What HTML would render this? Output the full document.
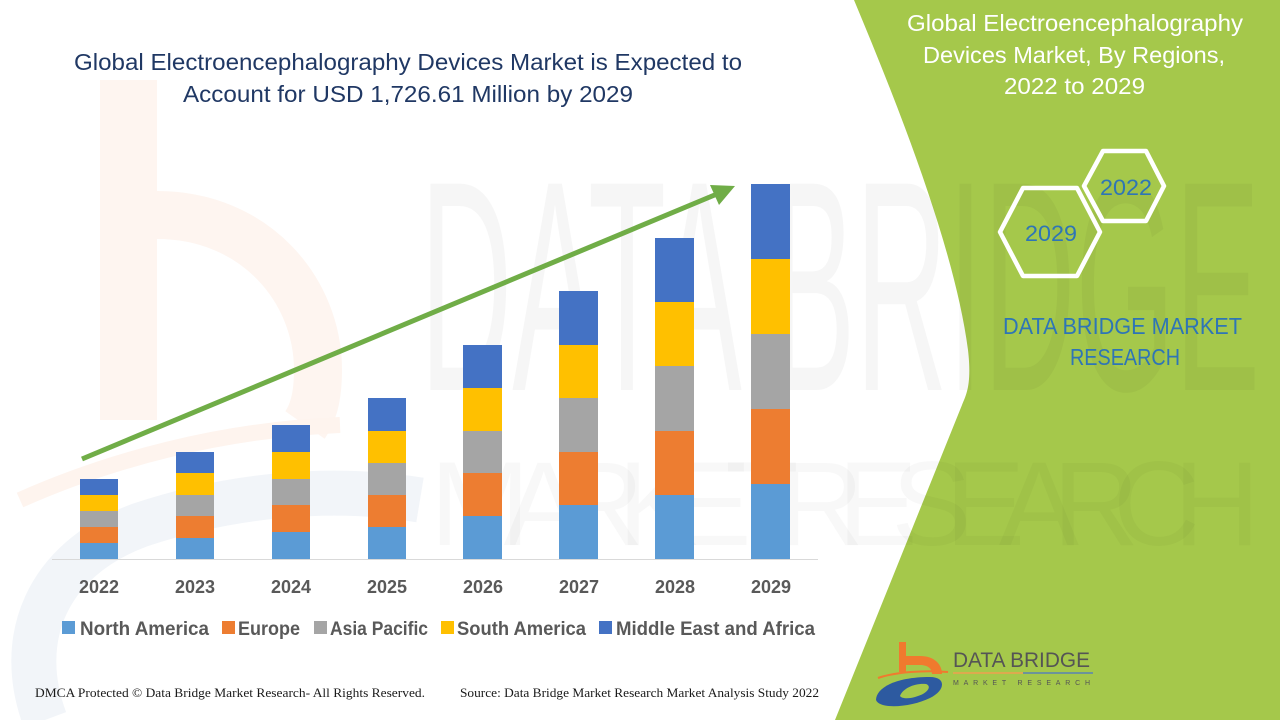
<!DOCTYPE html>
<html>
<head>
<meta charset="utf-8">
<style>
  html, body { margin:0; padding:0; background:#ffffff; }
  svg { display:block; }
</style>
</head>
<body>
<svg width="1280" height="720" viewBox="0 0 1280 720" xmlns="http://www.w3.org/2000/svg">
  <rect x="0" y="0" width="1280" height="720" fill="#ffffff"/>

  <!-- faint watermark logo (left) -->
  <g>
    <rect x="100" y="80" width="57" height="340" fill="#fef5f0"/>
    <path d="M157,215 C255,215 318,290 318,370 C318,400 312,415 305,425" fill="none" stroke="#fef5f0" stroke-width="48"/>
    <path d="M20,500 C110,460 220,430 340,425" fill="none" stroke="#fef4ee" stroke-width="16"/>
    <path d="M45,720 C15,640 45,560 140,525 C230,495 330,485 420,500" fill="none" stroke="#f2f5f9" stroke-width="45"/>
  </g>

  <!-- green right panel -->
  <path d="M854,0 C900,110 955,250 968,350 C972,385 966,395 962,405 L835,720 L1280,720 L1280,0 Z" fill="#a5c84b"/>

  <!-- faint watermark text -->
  <text x="420" y="390" font-family="Liberation Sans, sans-serif" font-size="300" fill="#000000" fill-opacity="0.035" textLength="840" lengthAdjust="spacingAndGlyphs">DATA BRIDGE</text>
  <text x="430" y="545" font-family="Liberation Sans, sans-serif" font-size="120" fill="#000000" fill-opacity="0.028" textLength="830" lengthAdjust="spacing">MARKET RESEARCH</text>

  <!-- Title -->
  <text x="74" y="70" font-family="Liberation Sans, sans-serif" font-size="23" fill="#203864" textLength="668" lengthAdjust="spacingAndGlyphs">Global Electroencephalography Devices Market is Expected to</text>
  <text x="183" y="102" font-family="Liberation Sans, sans-serif" font-size="23" fill="#203864" textLength="450" lengthAdjust="spacingAndGlyphs">Account for USD 1,726.61 Million by 2029</text>

  <!-- axis line -->
  <line x1="52" y1="559.5" x2="818" y2="559.5" stroke="#d9d9d9" stroke-width="1"/>

  <!-- bars -->
  <g>
    <!-- 2022 -->
    <rect x="80" y="543" width="38" height="16" fill="#5b9bd5"/>
    <rect x="80" y="527" width="38" height="16" fill="#ed7d31"/>
    <rect x="80" y="511" width="38" height="16" fill="#a5a5a5"/>
    <rect x="80" y="495" width="38" height="16" fill="#ffc000"/>
    <rect x="80" y="479" width="38" height="16" fill="#4472c4"/>
    <!-- 2023 -->
    <rect x="176" y="538" width="38" height="21" fill="#5b9bd5"/>
    <rect x="176" y="516" width="38" height="22" fill="#ed7d31"/>
    <rect x="176" y="495" width="38" height="21" fill="#a5a5a5"/>
    <rect x="176" y="473" width="38" height="22" fill="#ffc000"/>
    <rect x="176" y="452" width="38" height="21" fill="#4472c4"/>
    <!-- 2024 -->
    <rect x="272" y="532" width="38" height="27" fill="#5b9bd5"/>
    <rect x="272" y="505" width="38" height="27" fill="#ed7d31"/>
    <rect x="272" y="479" width="38" height="26" fill="#a5a5a5"/>
    <rect x="272" y="452" width="38" height="27" fill="#ffc000"/>
    <rect x="272" y="425" width="38" height="27" fill="#4472c4"/>
    <!-- 2025 -->
    <rect x="368" y="527" width="38" height="32" fill="#5b9bd5"/>
    <rect x="368" y="495" width="38" height="32" fill="#ed7d31"/>
    <rect x="368" y="463" width="38" height="32" fill="#a5a5a5"/>
    <rect x="368" y="431" width="38" height="32" fill="#ffc000"/>
    <rect x="368" y="398" width="38" height="33" fill="#4472c4"/>
    <!-- 2026 -->
    <rect x="463" y="516" width="39" height="43" fill="#5b9bd5"/>
    <rect x="463" y="473" width="39" height="43" fill="#ed7d31"/>
    <rect x="463" y="431" width="39" height="42" fill="#a5a5a5"/>
    <rect x="463" y="388" width="39" height="43" fill="#ffc000"/>
    <rect x="463" y="345" width="39" height="43" fill="#4472c4"/>
    <!-- 2027 -->
    <rect x="559" y="505" width="39" height="54" fill="#5b9bd5"/>
    <rect x="559" y="452" width="39" height="53" fill="#ed7d31"/>
    <rect x="559" y="398" width="39" height="54" fill="#a5a5a5"/>
    <rect x="559" y="345" width="39" height="53" fill="#ffc000"/>
    <rect x="559" y="291" width="39" height="54" fill="#4472c4"/>
    <!-- 2028 -->
    <rect x="655" y="495" width="39" height="64" fill="#5b9bd5"/>
    <rect x="655" y="431" width="39" height="64" fill="#ed7d31"/>
    <rect x="655" y="366" width="39" height="65" fill="#a5a5a5"/>
    <rect x="655" y="302" width="39" height="64" fill="#ffc000"/>
    <rect x="655" y="238" width="39" height="64" fill="#4472c4"/>
    <!-- 2029 -->
    <rect x="751" y="484" width="39" height="75" fill="#5b9bd5"/>
    <rect x="751" y="409" width="39" height="75" fill="#ed7d31"/>
    <rect x="751" y="334" width="39" height="75" fill="#a5a5a5"/>
    <rect x="751" y="259" width="39" height="75" fill="#ffc000"/>
    <rect x="751" y="184" width="39" height="75" fill="#4472c4"/>
  </g>

  <!-- trend arrow -->
  <line x1="82" y1="459" x2="717" y2="194" stroke="#70ad47" stroke-width="5"/>
  <polygon points="735,186 710,185 719,205" fill="#70ad47"/>

  <!-- x labels -->
  <g font-family="Liberation Sans, sans-serif" font-size="18" font-weight="bold" fill="#595959" text-anchor="middle">
    <text x="99" y="593">2022</text>
    <text x="195" y="593">2023</text>
    <text x="291" y="593">2024</text>
    <text x="387" y="593">2025</text>
    <text x="483" y="593">2026</text>
    <text x="579" y="593">2027</text>
    <text x="675" y="593">2028</text>
    <text x="771" y="593">2029</text>
  </g>

  <!-- legend -->
  <g font-family="Liberation Sans, sans-serif" font-size="19" font-weight="bold" fill="#595959">
    <rect x="62" y="621" width="13" height="13" fill="#5b9bd5"/>
    <text x="80" y="635" textLength="129" lengthAdjust="spacingAndGlyphs">North America</text>
    <rect x="222" y="621" width="13" height="13" fill="#ed7d31"/>
    <text x="238" y="635" textLength="62" lengthAdjust="spacingAndGlyphs">Europe</text>
    <rect x="314" y="621" width="13" height="13" fill="#a5a5a5"/>
    <text x="330" y="635" textLength="98" lengthAdjust="spacingAndGlyphs">Asia Pacific</text>
    <rect x="441" y="621" width="13" height="13" fill="#ffc000"/>
    <text x="457" y="635" textLength="129" lengthAdjust="spacingAndGlyphs">South America</text>
    <rect x="599" y="621" width="13" height="13" fill="#4472c4"/>
    <text x="616" y="635" textLength="199" lengthAdjust="spacingAndGlyphs">Middle East and Africa</text>
  </g>

  <!-- footer -->
  <text x="35" y="697" font-family="Liberation Serif, serif" font-size="13" fill="#1a1a1a" textLength="390" lengthAdjust="spacingAndGlyphs">DMCA Protected © Data Bridge Market Research- All Rights Reserved.</text>
  <text x="460" y="697" font-family="Liberation Serif, serif" font-size="13" fill="#1a1a1a" textLength="359" lengthAdjust="spacingAndGlyphs">Source: Data Bridge Market Research Market Analysis Study 2022</text>

  <!-- right panel title -->
  <g font-family="Liberation Sans, sans-serif" font-size="23" fill="#ffffff">
    <text x="907" y="31" textLength="336" lengthAdjust="spacingAndGlyphs">Global Electroencephalography</text>
    <text x="923" y="63" textLength="302" lengthAdjust="spacingAndGlyphs">Devices Market, By Regions,</text>
    <text x="1004" y="94" textLength="141" lengthAdjust="spacingAndGlyphs">2022 to 2029</text>
  </g>

  <!-- hexagons -->
  <polygon points="1084,186 1103,151 1146,151 1164,186 1146,221 1103,221" fill="none" stroke="#ffffff" stroke-width="4.5" stroke-linejoin="round"/>
  <polygon points="1000,232 1023,188 1077,188 1100,232 1077,276 1023,276" fill="none" stroke="#ffffff" stroke-width="4.5" stroke-linejoin="round"/>
  <g font-family="Liberation Sans, sans-serif" font-size="22" fill="#2e75b6">
    <text x="1100" y="195" textLength="52" lengthAdjust="spacingAndGlyphs">2022</text>
    <text x="1025" y="241" textLength="52" lengthAdjust="spacingAndGlyphs">2029</text>
  </g>

  <!-- DATA BRIDGE MARKET RESEARCH -->
  <g font-family="Liberation Sans, sans-serif" font-size="23" fill="#2e75b6">
    <text x="1003" y="334" textLength="239" lengthAdjust="spacingAndGlyphs">DATA BRIDGE MARKET</text>
    <text x="1070" y="365" textLength="110" lengthAdjust="spacingAndGlyphs">RESEARCH</text>
  </g>

  <!-- bottom logo -->
  <g>
    <rect x="899" y="642" width="7" height="30" fill="#f07a2e"/>
    <path d="M906,656 L920,656 C934,656 942,664 942,674 L932,674 C932,668 927,665 920,665 L906,665 Z" fill="#f07a2e"/>
    <path d="M878,678 C895,672 925,670 948,672" fill="none" stroke="#f07a2e" stroke-width="2"/>
    <path d="M876,700 C876,688 895,677 930,677 C946,677 946,690 930,698 C912,707 880,710 876,700 Z" fill="#2d5aa0"/>
    <path d="M900,696 C903,688 915,683 926,684 C932,686 928,693 918,696 C910,699 902,699 900,696 Z" fill="#a5c84b"/>
  </g>
  <text x="953" y="667" font-family="Liberation Sans, sans-serif" font-size="21" fill="#555555" textLength="137" lengthAdjust="spacingAndGlyphs">DATA BRIDGE</text>
  <line x1="953" y1="673" x2="1023" y2="673" stroke="#f0a050" stroke-width="1.5"/>
  <line x1="1023" y1="673" x2="1093" y2="673" stroke="#5a82b5" stroke-width="1.5"/>
  <text x="953" y="685" font-family="Liberation Sans, sans-serif" font-size="7" fill="#555555" textLength="137" lengthAdjust="spacing">MARKET   RESEARCH</text>
</svg>
</body>
</html>
